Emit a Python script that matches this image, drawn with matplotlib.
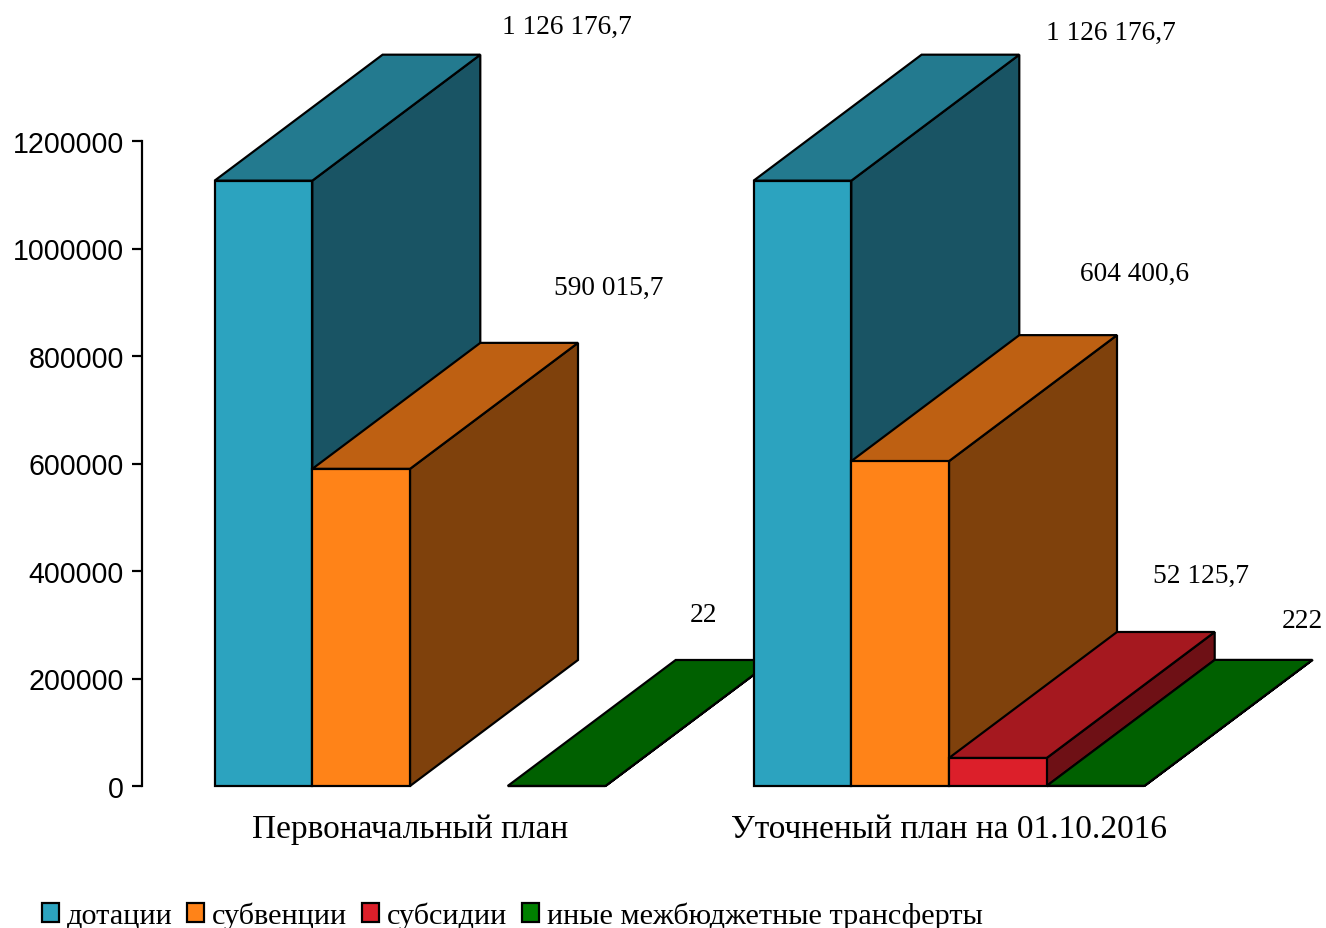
import matplotlib
matplotlib.use("Agg")
import matplotlib.pyplot as plt
from matplotlib.patches import Polygon, Patch
from matplotlib.ticker import FormatStrFormatter
from matplotlib.transforms import Affine2D

categories = ["Первоначальный план", "Уточненый план на 01.10.2016"]
series = ["дотации", "субвенции", "субсидии", "иные межбюджетные трансферты"]
dotacii = [1126176.7, 1126176.7]
subvencii = [590015.7, 604400.6]
subsidii = [None, 52125.7]
inye = [22, 222]
value_labels = [["1 126 176,7", "590 015,7", None, "22"],
                ["1 126 176,7", "604 400,6", "52 125,7", "222"]]
label_px = [[(567, 27), (609, 288), None, (703.5, 616)],
            [(1111, 33), (1135, 274), (1201, 576), (1302, 622)]]

front = ["#2CA3BF", "#FF8318", "#DC1F2A", "#008000"]
top = ["#237A8F", "#BE6012", "#A5181F", "#006000"]
side = ["#195464", "#7F410C", "#6E1015", "#004000"]

W, H = 1326, 929
L, R, T, B = 142, 1326, 142, 787
SLOT = 97.7
X0 = 214.6
GROUP2 = 539 / SLOT
EDGE = 2.2 * 0.72

fig = plt.figure(figsize=(W / 100, H / 100), dpi=100, facecolor="white")
ax = fig.add_axes([L / W, 1 - B / H, (R - L) / W, (B - T) / H])
ax.set_xlim((L - X0) / SLOT, (R - X0) / SLOT)
ax.set_ylim(0, 1200000)
depth_x = 168 / SLOT
depth_y = 126 / (B - T) * 1200000

def poly(pts, color, z):
    ax.add_patch(Polygon(pts, closed=True, facecolor=color, edgecolor="black",
                         linewidth=EDGE, joinstyle="miter", clip_on=False, zorder=z))

data = [dotacii, subvencii, subsidii, inye]
z = 3
for g, start in enumerate([0, GROUP2]):
    for s, values in enumerate(data):
        v = values[g]
        if v is None:
            continue
        x0, x1 = start + s, start + s + 1
        dx, dy = depth_x, depth_y
        poly([(x1, 0), (x1 + dx, dy), (x1 + dx, v + dy), (x1, v)], side[s], z)
        poly([(x0, v), (x1, v), (x1 + dx, v + dy), (x0 + dx, v + dy)], top[s], z + 0.1)
        poly([(x0, 0), (x1, 0), (x1, v), (x0, v)], front[s], z + 0.2)
        z += 1

px = Affine2D().scale(1, -1).translate(0, H)
for row, pos in zip(value_labels, label_px):
    for txt, p in zip(row, pos):
        if txt:
            fig.text(p[0], p[1], txt, transform=px, ha="center", va="center",
                     family="Liberation Serif", fontsize=19.7, color="black")

for sp in ["top", "right", "bottom"]:
    ax.spines[sp].set_visible(False)
ax.patch.set_alpha(0)
ax.spines["left"].set_linewidth(EDGE)
ax.set_yticks(range(0, 1200001, 200000))
ax.yaxis.set_major_formatter(FormatStrFormatter("%d"))
ax.tick_params(axis="y", length=7.5, width=EDGE, pad=5.5)
for t in ax.get_yticklabels():
    t.set_family("Liberation Sans")
    t.set_fontsize(20.6)
ax.set_xticks([2, GROUP2 + 2], categories)
ax.tick_params(axis="x", length=0, pad=19.5)
for t in ax.get_xticklabels():
    t.set_family("Liberation Serif")
    t.set_fontsize(24)

handles = [Patch(facecolor=c, edgecolor="black", linewidth=EDGE) for c in front]
leg = fig.legend(handles, series, loc="lower left", bbox_to_anchor=(0.0, 0.0),
                 bbox_transform=Affine2D().translate(42, -1), ncol=4, frameon=False,
                 prop={"family": "Liberation Serif", "size": 21.8},
                 handlelength=0.56, handleheight=0.56, handletextpad=0.25,
                 columnspacing=0.5, borderpad=0.0, borderaxespad=0)

fig.savefig("out.png", dpi=100)
